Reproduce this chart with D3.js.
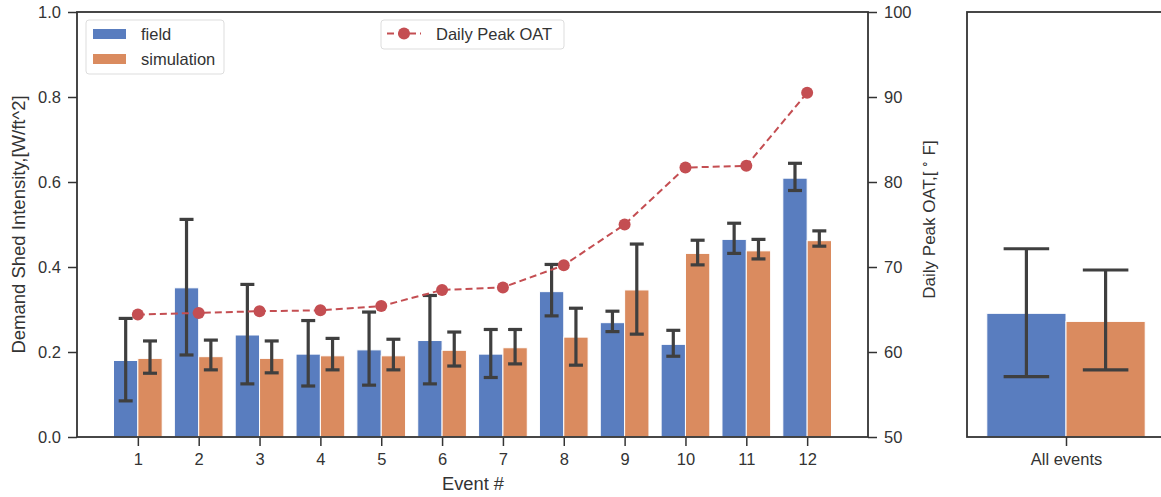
<!DOCTYPE html>
<html>
<head>
<meta charset="utf-8">
<script src="https://cdn.jsdelivr.net/npm/d3@7"></script>
<style>
  body { margin: 0; background: #fff; }
  svg { font-family: "Liberation Sans", Arial, sans-serif; }
</style>
</head>
<body>
<svg id="chart" width="1161" height="497"></svg>
<script>
const events = [1, 2, 3, 4, 5, 6, 7, 8, 9, 10, 11, 12];
const fieldMean = [0.180, 0.351, 0.240, 0.195, 0.205, 0.227, 0.195, 0.342, 0.269, 0.218, 0.465, 0.609];
const fieldLow  = [0.085, 0.193, 0.125, 0.120, 0.122, 0.125, 0.140, 0.285, 0.248, 0.190, 0.432, 0.580];
const fieldHigh = [0.279, 0.512, 0.359, 0.274, 0.294, 0.333, 0.253, 0.406, 0.296, 0.251, 0.503, 0.644];
const simMean = [0.185, 0.189, 0.185, 0.191, 0.191, 0.204, 0.210, 0.235, 0.346, 0.432, 0.438, 0.462];
const simLow  = [0.150, 0.158, 0.151, 0.158, 0.158, 0.167, 0.172, 0.169, 0.242, 0.405, 0.419, 0.449];
const simHigh = [0.226, 0.228, 0.226, 0.232, 0.230, 0.247, 0.253, 0.303, 0.454, 0.463, 0.465, 0.485];
const peakOAT = [64.4, 64.6, 64.8, 64.9, 65.4, 67.3, 67.6, 70.2, 75.0, 81.7, 81.9, 90.5];
// summary panel: [field, simulation]
const allMean = [0.291, 0.272];
const allLow  = [0.142, 0.158];
const allHigh = [0.443, 0.393];

const yTicks = [0, 0.2, 0.4, 0.6, 0.8, 1.0];
const oatTicks = [50, 60, 70, 80, 90, 100];

// seaborn muted palette, desaturated like barplot does
const colField = "#597dbf", colSim = "#da8b5f", colLine = "#c44e52";
const ink = "#333", errCol = "#3f3f3f";
const barW = 0.4, cap = 0.23;
const fs = 16.5;

const svg = d3.select("#chart");
const yTop = 12, yBot = 437;

const x = d3.scaleLinear().domain([0, 13]).range([77, 868]);
const y = d3.scaleLinear().domain([0, 1]).range([yBot, yTop]);
const yR = d3.scaleLinear().domain([50, 100]).range([yBot, yTop]);

const styleAxis = (g) => {
  g.select(".domain").remove();
  g.selectAll(".tick line").attr("stroke", ink).attr("stroke-width", 1.5);
  g.selectAll(".tick text").attr("fill", "#333").attr("font-size", fs);
};

// axes
svg.append("g").attr("transform", `translate(77,0)`)
  .call(d3.axisLeft(y).tickValues(yTicks).tickFormat(d3.format(".1f")).tickSize(9).tickPadding(7))
  .call(styleAxis);
svg.append("g").attr("transform", `translate(868,0)`)
  .call(d3.axisRight(yR).tickValues(oatTicks).tickFormat(d3.format("d")).tickSize(9).tickPadding(7))
  .call(styleAxis);
svg.append("g").attr("transform", `translate(0,${yBot})`)
  .call(d3.axisBottom(x).tickValues(events).tickSize(9).tickPadding(7))
  .call(styleAxis);

// bars with error bars
const drawBars = (g, xs, cx, mean, low, high, col, bw, cp) => {
  g.append("g").selectAll("rect").data(mean).join("rect")
    .attr("x", (d, i) => xs(cx(i) - bw / 2))
    .attr("width", (d, i) => xs(cx(i) + bw / 2) - xs(cx(i) - bw / 2))
    .attr("y", d => y(d))
    .attr("height", d => yBot - y(d))
    .attr("fill", col).attr("stroke", "#fff").attr("stroke-width", 1);
  const eb = g.append("g").attr("stroke", errCol).attr("stroke-width", 3.2);
  mean.forEach((d, i) => {
    const c = xs(cx(i)), w = xs(cx(i) + cp / 2) - c;
    eb.append("line").attr("x1", c).attr("x2", c).attr("y1", y(low[i])).attr("y2", y(high[i]));
    eb.append("line").attr("x1", c - w).attr("x2", c + w).attr("y1", y(low[i])).attr("y2", y(low[i]));
    eb.append("line").attr("x1", c - w).attr("x2", c + w).attr("y1", y(high[i])).attr("y2", y(high[i]));
  });
};
const main = svg.append("g");
drawBars(main, x, i => events[i] - barW / 2, fieldMean, fieldLow, fieldHigh, colField, barW, cap);
drawBars(main, x, i => events[i] + barW / 2, simMean, simLow, simHigh, colSim, barW, cap);

// OAT line
const line = d3.line().x((d, i) => x(events[i])).y(d => yR(d));
svg.append("path").datum(peakOAT).attr("d", line)
  .attr("fill", "none").attr("stroke", colLine).attr("stroke-width", 2).attr("stroke-dasharray", "7,4");
svg.append("g").selectAll("circle").data(peakOAT).join("circle")
  .attr("cx", (d, i) => x(events[i])).attr("cy", d => yR(d)).attr("r", 6).attr("fill", colLine);

// frame
svg.append("rect").attr("x", 77).attr("y", yTop).attr("width", 868 - 77).attr("height", yBot - yTop)
  .attr("fill", "none").attr("stroke", ink).attr("stroke-width", 1.8);

// labels
svg.append("text").attr("transform", `translate(25,${(yTop + yBot) / 2}) rotate(-90)`)
  .attr("text-anchor", "middle").attr("font-size", 18.5).attr("fill", "#333")
  .text("Demand Shed Intensity,[W/ft^2]");
const rl = svg.append("text").attr("transform", `translate(935,${(yTop + yBot) / 2 - 5}) rotate(-90)`)
  .attr("text-anchor", "middle").attr("font-size", 17).attr("fill", "#333");
rl.append("tspan").text("Daily Peak OAT,[");
rl.append("tspan").attr("font-size", 12).attr("dy", -6).text(" \u2218");
rl.append("tspan").attr("dy", 6).text(" F]");
svg.append("text").attr("x", 473).attr("y", 490).attr("text-anchor", "middle")
  .attr("font-size", 18.3).attr("fill", "#333").text("Event #");

// legends
const leg1 = svg.append("g");
leg1.append("rect").attr("x", 86).attr("y", 20).attr("width", 138).attr("height", 54).attr("rx", 3)
  .attr("fill", "#fff").attr("fill-opacity", 0.8).attr("stroke", "#ddd");
[["field", colField], ["simulation", colSim]].forEach(([t, c], i) => {
  leg1.append("rect").attr("x", 93).attr("y", 29 + i * 25).attr("width", 33).attr("height", 10).attr("fill", c);
  leg1.append("text").attr("x", 141).attr("y", 40 + i * 25).attr("font-size", fs).attr("fill", "#333").text(t);
});
const leg2 = svg.append("g");
leg2.append("rect").attr("x", 381).attr("y", 20).attr("width", 183).attr("height", 29).attr("rx", 3)
  .attr("fill", "#fff").attr("fill-opacity", 0.8).attr("stroke", "#ddd");
leg2.append("line").attr("x1", 387).attr("x2", 421).attr("y1", 33.5).attr("y2", 33.5)
  .attr("stroke", colLine).attr("stroke-width", 2).attr("stroke-dasharray", "7,4");
leg2.append("circle").attr("cx", 404).attr("cy", 33.5).attr("r", 6).attr("fill", colLine);
leg2.append("text").attr("x", 436).attr("y", 39.5).attr("font-size", fs).attr("fill", "#333").text("Daily Peak OAT");

// summary panel
const x2 = d3.scaleLinear().domain([-0.5, 0.5]).range([967, 1165]);
const side = svg.append("g");
drawBars(side, x2, i => -barW / 2, [allMean[0]], [allLow[0]], [allHigh[0]], colField, barW, cap);
drawBars(side, x2, i => barW / 2, [allMean[1]], [allLow[1]], [allHigh[1]], colSim, barW, cap);
svg.append("rect").attr("x", 967).attr("y", yTop).attr("width", 1165 - 967).attr("height", yBot - yTop)
  .attr("fill", "none").attr("stroke", ink).attr("stroke-width", 1.8);
svg.append("g").attr("transform", `translate(0,${yBot})`)
  .call(d3.axisBottom(x2).tickValues([0]).tickFormat(() => "All events").tickSize(9).tickPadding(7))
  .call(styleAxis);
</script>
</body>
</html>
